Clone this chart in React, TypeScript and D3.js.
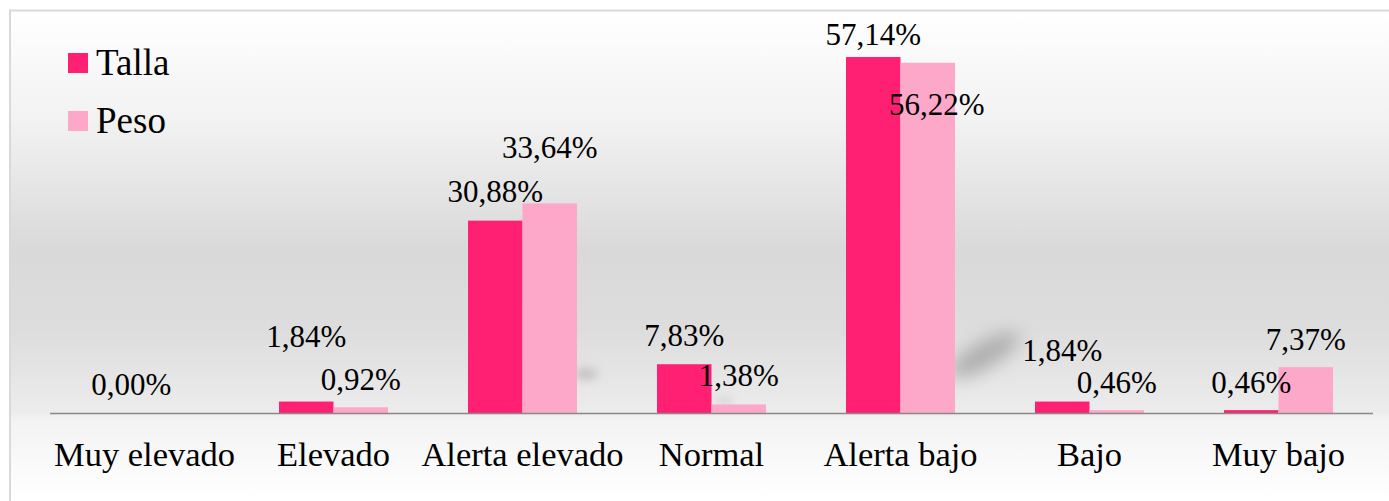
import React from "react";
import * as d3 from "d3";

// Categorías de clasificación y porcentajes por indicador
const categories = ["Muy elevado", "Elevado", "Alerta elevado", "Normal", "Alerta bajo", "Bajo", "Muy bajo"];
const seriesNames = ["Talla", "Peso"];
const tallaValues = [0.0, 1.84, 30.88, 7.83, 57.14, 1.84, 0.46];
const pesoValues = [0.0, 0.92, 33.64, 1.38, 56.22, 0.46, 7.37];
const yDomainMax = 60;

// Ajuste manual de etiquetas: [dx, elevación sobre la barra]; null = sin etiqueta
const tallaLabelShift: ([number, number] | null)[] = [[14, 18], [0, 55], [0, 19], [0, 18], [0, 12], [0, 41], [0, 17]];
const pesoLabelShift: ([number, number] | null)[] = [null, [0, 17], [0, 45], [0, 18], [9, -52], [0, 17], [0, 17]];

const W = 1389;
const H = 501;
const COLORS = { Talla: "#ff2074", Peso: "#fda8c9" };
const FONT = "'Liberation Serif', 'Times New Roman', serif";

const esLocale = d3.formatLocale({ decimal: ",", thousands: ".", grouping: [3], currency: ["", "€"] });
const fmt = esLocale.format(".2%");

export default function App() {
  const x0 = d3.scaleBand<string>().domain(categories).range([50, 1373]).padding(0);
  const x1 = d3
    .scaleBand<string>()
    .domain(seriesNames)
    .range([0, x0.bandwidth()])
    .paddingInner(0)
    .paddingOuter(0.734);
  const y = d3.scaleLinear().domain([0, yDomainMax]).range([413, 39.2]);

  const series = [
    { name: "Talla", values: tallaValues, shifts: tallaLabelShift },
    { name: "Peso", values: pesoValues, shifts: pesoLabelShift },
  ];

  return (
    <svg width={W} height={H} style={{ position: "absolute", left: 0, top: 0 }}>
      <defs>
        <linearGradient id="bg" gradientUnits="userSpaceOnUse" x1="0" y1="10" x2="0" y2="501">
          <stop offset={0} stopColor="#ffffff" />
          <stop offset={(120 - 10) / 491} stopColor="#f2f2f2" />
          <stop offset={(250 - 10) / 491} stopColor="#d9d9d9" />
          <stop offset={(330 - 10) / 491} stopColor="#dddddd" />
          <stop offset={(412 - 10) / 491} stopColor="#ececec" />
          <stop offset={(420 - 10) / 491} stopColor="#f3f3f3" />
          <stop offset={1} stopColor="#ffffff" />
        </linearGradient>
        <filter id="soft" x="-50%" y="-50%" width="200%" height="200%">
          <feGaussianBlur stdDeviation="5" />
        </filter>
        <filter id="softer" x="-50%" y="-100%" width="200%" height="300%">
          <feGaussianBlur stdDeviation="9" />
        </filter>
      </defs>
      <rect x={0} y={0} width={W} height={H} fill="#ffffff" />
      <rect x={10} y={10.5} width={W + 10} height={H + 10} fill="url(#bg)" stroke="#d9d9d9" strokeWidth={2} />

      {/* sombras difusas detrás de las barras */}
      <g filter="url(#soft)">
        <ellipse cx={586} cy={374} rx={12} ry={6} fill="#b4b4b4" opacity={0.7} />
        <ellipse cx={724} cy={401} rx={9} ry={4} fill="#c4c4c4" opacity={0.6} />
      </g>
      <g filter="url(#softer)">
        <ellipse cx={984} cy={355} rx={40} ry={13} fill="#a4a4a4" opacity={0.85} transform="rotate(-30 984 355)" />
      </g>

      {/* barras */}
      {series.map((s) => (
        <g key={s.name}>
          {s.values.map((v, i) => (
            <rect
              key={i}
              x={(x0(categories[i]) as number) + (x1(s.name) as number)}
              y={y(v)}
              width={x1.bandwidth()}
              height={y(0) - y(v)}
              fill={COLORS[s.name as keyof typeof COLORS]}
            />
          ))}
        </g>
      ))}

      {/* eje horizontal */}
      <line x1={50} x2={1373} y1={413.5} y2={413.5} stroke="#898989" strokeWidth={1.3} />

      {/* etiquetas de datos */}
      {series.map((s) =>
        s.values.map((v, i) => {
          const sh = s.shifts[i];
          if (!sh) return null;
          const cx = (x0(categories[i]) as number) + (x1(s.name) as number) + x1.bandwidth() / 2 + sh[0];
          return (
            <text
              key={s.name + i}
              x={cx}
              y={y(v) - sh[1]}
              textAnchor="middle"
              fontFamily={FONT}
              fontSize={31}
              fill="#000"
            >
              {fmt(v / 100)}
            </text>
          );
        })
      )}

      {/* etiquetas de categoría */}
      {categories.map((c) => (
        <text
          key={c}
          x={(x0(c) as number) + x0.bandwidth() / 2}
          y={466}
          textAnchor="middle"
          fontFamily={FONT}
          fontSize={34.5}
          fill="#000"
        >
          {c}
        </text>
      ))}

      {/* leyenda */}
      {seriesNames.map((n, i) => (
        <g key={n} transform={`translate(68, ${53 + i * 58})`}>
          <rect x={0} y={0} width={20} height={20} fill={COLORS[n as keyof typeof COLORS]} />
          <text x={28} y={22} fontFamily={FONT} fontSize={37} fill="#000">
            {n}
          </text>
        </g>
      ))}
    </svg>
  );
}
